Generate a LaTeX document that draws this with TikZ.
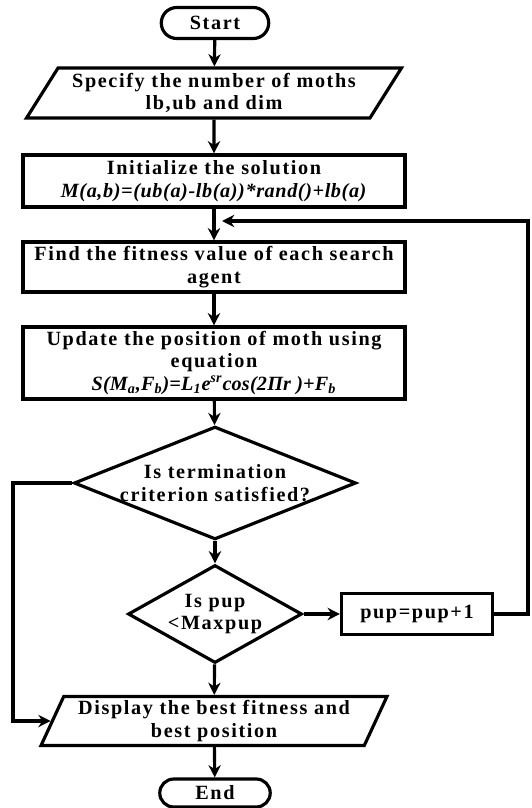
\documentclass[tikz,border=0pt]{standalone}
\usepackage{fontspec}
\setmainfont[LetterSpace=8]{Liberation Serif}
\usetikzlibrary{shapes.geometric}
\usetikzlibrary{shapes.misc}
\usetikzlibrary{positioning}
\usetikzlibrary{arrows.meta}

\begin{document}
\begin{tikzpicture}[x=0.02cm, y=-0.02cm,
        every node/.style={font=\fontsize{11.5}{12.8}\selectfont\bfseries, align=center, inner sep=1pt},
        termbox/.style={draw, rounded rectangle, line width=1.8pt},
        iobox/.style={draw, trapezium, trapezium stretches body, line width=1.8pt},
        procbox/.style={draw, rectangle, line width=1.8pt, minimum width=7.64cm},
        decbox/.style={draw, diamond, line width=1.8pt, inner sep=0pt},
        flow/.style={-{Stealth[length=7pt,width=7pt]}, line width=1.8pt}]
    \useasboundingbox (0,0) rectangle (531,808);

    \node[termbox, minimum width=2.22cm, minimum height=0.62cm] (start) at (215,23) {Start};
    \node[iobox, trapezium left angle=54, trapezium right angle=126, minimum width=7.5cm, minimum height=1cm] (input) at (214,93) {Specify the number of moths\\lb,ub and dim};
    \node[procbox, minimum height=1.04cm] (init) at (214,181) {Initialize the solution\\\addfontfeatures{LetterSpace=3}\textit{M(a,b)=(ub(a)-lb(a))*rand()+lb(a)}};
    \node[procbox, minimum height=1cm] (fitness) at (214,267) {Find the fitness value of each search\\agent};
    \node[procbox, minimum height=1.44cm] (update) at (214,363) {Update the position of moth using\\equation\\\addfontfeatures{LetterSpace=1}\textit{S(M\textsubscript{a},F\textsubscript{b})=L\textsubscript{1}e\textsuperscript{sr}cos(2Πr )+F\textsubscript{b}}};
    \node[decbox, aspect=2.5, minimum width=5.52cm, minimum height=2.2cm] (check) at (215,483) {Is termination\\criterion satisfied?};
    \node[decbox, aspect=1.8, minimum width=3.48cm, minimum height=1.96cm] (pupcheck) at (215,614) {Is pup\\<Maxpup};
    \node[procbox, minimum width=3.02cm, minimum height=0.82cm] (incr) at (417,614) {pup=pup+1};
    \node[iobox, trapezium left angle=63, trapezium right angle=117, minimum width=6.92cm, minimum height=0.98cm] (output) at (214,721) {Display the best fitness and\\best position};
    \node[termbox, minimum width=2.28cm, minimum height=0.56cm] (stop) at (215,793) {End};

    \coordinate (lft) at (13,483);
    \coordinate (rgt) at (528,614);
    \coordinate (back) at (222,221);

    \draw[flow] (start) -- (input);
    \draw[flow] (input) -- (init);
    \draw[flow] (init) -- (fitness);
    \draw[flow] (fitness) -- (update);
    \draw[flow] (update) -- (check);
    \draw[flow] (check) -- (pupcheck);
    \draw[flow] (pupcheck) -- (incr);
    \draw[flow] (pupcheck) -- (output);
    \draw[flow] (output) -- (stop);
    \draw[flow] (check.west) -- (lft) |- (output.west);
    \draw[flow] (incr.east) -- (rgt) |- (back);
\end{tikzpicture}
\end{document}
